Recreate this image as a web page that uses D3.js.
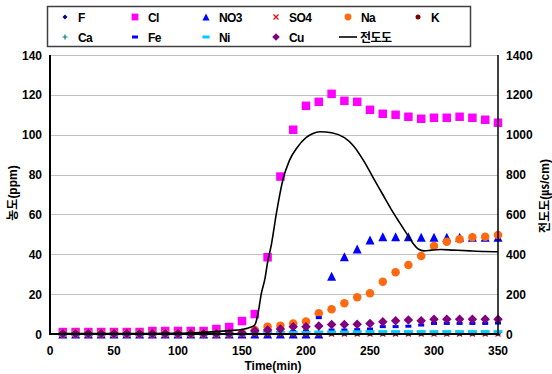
<!DOCTYPE html>
<html lang="ko">
<head>
<meta charset="UTF-8">
<title>농도 / 전도도</title>
<script src="https://d3js.org/d3.v7.min.js"></script>
<style>
  body { margin: 0; background: #fff; }
  svg { display: block; font-family: 'Liberation Sans', Arial, sans-serif; }
  .tick-label { font-size: 12px; font-weight: bold; fill: #000; }
  .legend-text { font-size: 12px; font-weight: bold; fill: #000; letter-spacing: -0.6px; }
  .axis-title { font-size: 12px; font-weight: bold; fill: #000; font-family: 'Liberation Sans', 'Noto Sans CJK KR', sans-serif; }
  .grid { stroke: #c0c0c0; stroke-width: 1; }
</style>
</head>
<body>
<svg width="552" height="374"></svg>
<script>
// time points (min)
const times = d3.range(10, 351, 10);

// ion concentrations (ppm), one value per time point
const F   = [0,0,0,0,0,0,0,0,0,0,0,0,0,0,0,0.1,0.1,0.1,0.1,0.1,0.1,0.1,0.1,0.1,0.1,0.1,0.1,0.1,0.1,0.1,0.1,0.1,0.1,0.1,0.1];
const Cl  = [1,1,1,1,1,1,1,1.5,1.5,1.5,1.5,1.5,2.5,3.5,6.5,10,38.5,79,102.5,114.5,116.5,120.5,117,116.5,112.5,110.5,110,109,108,108.5,108.5,109,108.5,107.5,106];
const NO3 = [0,0,0,0,0,0,0,0,0,0,0,0,0,0,0,0,0,0,0,0,0,29,38.8,42.6,47.2,48.8,48.8,48.8,48.5,48.5,48.5,48.5,48.5,48.5,48.5];
const SO4 = [0,0,0,0,0,0,0,0,0,0,0,0,0,0,0,0,0,0,0,0,0,0,0,0,0,0,0,0,0,0,0,0,0,0,0];
const Na  = [0.3,0.3,0.3,0.3,0.3,0.3,0.3,0.3,0.3,0.3,0.3,0.3,0.3,0.3,0.5,2,3.7,4.2,5.3,6.3,10.4,12.4,15.4,18.4,20.4,26.2,31,34.6,39.1,44.2,46.3,47.5,48.5,48.8,49.7];
const K   = [0,0,0,0,0,0,0,0,0,0,0,0,0,0,0,0.2,0.2,0.2,0.2,0.2,0.2,0.2,0.2,0.2,0.2,0.2,0.2,0.2,0.2,0.2,0.2,0.2,0.2,0.2,0.2];
const Ca  = [0,0,0,0,0,0,0,0,0,0,0,0,0,0,0,0.3,0.3,0.3,0.3,0.3,0.3,0.3,0.3,0.3,0.3,0.3,0.3,0.3,0.3,0.3,0.3,0.3,0.3,0.3,0.3];
const Fe  = [0,0,0,0,0,0,0,0,0,0,0,0,0,0,0,0.3,0.8,1,1.2,1.5,8.2,2,2,2.2,2.5,3.7,3.7,3.9,4.5,5.3,5.3,5.3,5.3,5.3,5.5];
const Ni  = [0,0,0,0,0,0,0,0,0,0,0,0,0,0,0,0.5,0.8,0.8,0.8,0.8,1,1,1,1.1,1.2,1.2,1.2,1.2,1.2,1.2,1.2,1.2,1.2,1.2,1.2];
const Cu  = [0.3,0.3,0.3,0.3,0.3,0.3,0.3,0.3,0.3,0.3,0.3,0.3,0.3,0.3,0.5,1.6,2,2.5,3.6,3.7,4,4.8,4.8,4.9,5.3,6.2,6.7,7,6.7,7.4,7.4,7.4,7.4,7.4,7.4];

// conductivity (uS/cm)
const condT = [10,30,50,70,90,100,110,120,130,140,150,155,160,163,165,168,170,173,177,182,187,193,200,205,211,220,230,237,245,252,260,266,273,279,284,288,292,298,305,315,328,340,350];
const condV = [2,2,2,2,3,3,5,8,12,17,23,30,45,120,200,280,360,450,610,775,870,935,985,1005,1015,1010,985,945,870,790,700,632,560,500,452,425,417,421,424,421,417,414,413];

const xTicks = [0,50,100,150,200,250,300,350];
const yTicks = [0,20,40,60,80,100,120,140];
const y2Ticks = [0,200,400,600,800,1000,1200,1400];

const svg = d3.select("svg");
const x = d3.scaleLinear().domain([0, 350]).range([50, 498]);
const y = d3.scaleLinear().domain([0, 140]).range([334, 55]);
const y2 = d3.scaleLinear().domain([0, 1400]).range([334, 55]);

// marker shapes, centred on 0,0
const shapes = {
  square: s => `M${-s/2},${-s/2}h${s}v${s}h${-s}Z`,
  diamond: s => `M0,${-s/2}L${s/2},0L0,${s/2}L${-s/2},0Z`,
  triangle: s => `M0,${-s/2}L${s/2},${s/2}L${-s/2},${s/2}Z`,
  circle: s => d3.symbol(d3.symbolCircle, Math.PI * s * s / 4)(),
  cross: s => `M${-s/2},${-s/2}L${s/2},${s/2}M${s/2},${-s/2}L${-s/2},${s/2}`,
  plus: s => `M${-s/2},0H${s/2}M0,${-s/2}V${s/2}`,
  dash: s => `M${-s/2},-1.5h${s}v3h${-s}Z`
};

const series = [
  { name: "F",   values: F,   shape: "diamond",  size: 5, color: "#000080" },
  { name: "Cl",  values: Cl,  shape: "square",   size: 8.5, color: "#ff00ff" },
  { name: "NO3", values: NO3, shape: "triangle", size: 9, color: "#0000ff" },
  { name: "SO4", values: SO4, shape: "cross",    size: 5, color: "#ff0000", stroke: true },
  { name: "Na",  values: Na,  shape: "circle",   size: 8.5, color: "#ff6a10" },
  { name: "K",   values: K,   shape: "circle",   size: 5, color: "#800000" },
  { name: "Ca",  values: Ca,  shape: "plus",     size: 5, color: "#008080", stroke: true },
  { name: "Fe",  values: Fe,  shape: "dash",     size: 6, color: "#0000ff" },
  { name: "Ni",  values: Ni,  shape: "dash",     size: 9, color: "#00ccff" },
  { name: "Cu",  values: Cu,  shape: "diamond",  size: 9.5, color: "#800080" }
];

// gridlines
svg.append("g").selectAll("line").data(yTicks.slice(1)).join("line")
  .attr("class", "grid")
  .attr("x1", x(0)).attr("x2", x(350))
  .attr("y1", d => Math.round(y(d)) + 0.5).attr("y2", d => Math.round(y(d)) + 0.5);

// markers
series.forEach(s => {
  svg.append("g").selectAll("path").data(s.values).join("path")
    .attr("transform", (d, i) => `translate(${x(times[i])},${y(d)})`)
    .attr("d", shapes[s.shape](s.size))
    .attr("fill", s.stroke ? "none" : s.color)
    .attr("stroke", s.stroke ? s.color : "none")
    .attr("stroke-width", 1.2);
});

// conductivity line
const condData = condT.map((t, i) => [t, condV[i]]);
svg.append("path")
  .datum(condData)
  .attr("fill", "none")
  .attr("stroke", "#000")
  .attr("stroke-width", 1.6)
  .attr("d", d3.line().x(d => x(d[0])).y(d => y2(d[1])).curve(d3.curveMonotoneX));

// axes lines
svg.append("line").attr("x1", 50).attr("x2", 50).attr("y1", 55).attr("y2", 335)
  .attr("stroke", "#000").attr("stroke-width", 2);
svg.append("line").attr("x1", 498).attr("x2", 498).attr("y1", 55).attr("y2", 335)
  .attr("stroke", "#000").attr("stroke-width", 1.5);
svg.append("line").attr("x1", 49).attr("x2", 499).attr("y1", 334).attr("y2", 334)
  .attr("stroke", "#000").attr("stroke-width", 2);

// tick labels
svg.append("g").selectAll("text").data(yTicks).join("text")
  .attr("class", "tick-label")
  .attr("x", 42).attr("y", d => y(d) + 4.5)
  .attr("text-anchor", "end")
  .text(d => d);
svg.append("g").selectAll("text").data(y2Ticks).join("text")
  .attr("class", "tick-label")
  .attr("x", 506).attr("y", d => y2(d) + 4.5)
  .text(d => d);
svg.append("g").selectAll("text").data(xTicks).join("text")
  .attr("class", "tick-label")
  .attr("x", d => x(d)).attr("y", 355)
  .attr("text-anchor", "middle")
  .text(d => d);

// axis titles
svg.append("text").attr("class", "axis-title")
  .attr("transform", "translate(17,193) rotate(-90)")
  .attr("text-anchor", "middle")
  .text("농도(ppm)");
svg.append("text").attr("class", "axis-title")
  .attr("transform", "translate(549,196) rotate(-90)")
  .attr("text-anchor", "middle")
  .text("전도도(㎲/cm)");
svg.append("text").attr("class", "axis-title")
  .attr("x", 273).attr("y", 370)
  .attr("text-anchor", "middle")
  .text("Time(min)");

// legend
const legend = svg.append("g");
legend.append("rect")
  .attr("x", 47.5).attr("y", 6.5).attr("width", 423).attr("height", 40)
  .attr("fill", "#fff").attr("stroke", "#404040").attr("stroke-width", 1.5);

const colX = [65, 135, 206, 276, 348, 418];
const rowY = [17, 37];
series.forEach((s, i) => {
  const cx = colX[i % 6], cy = rowY[Math.floor(i / 6)];
  const ls = s.size > 7 ? s.size * 0.8 : s.size;
  legend.append("path")
    .attr("transform", `translate(${cx},${cy})`)
    .attr("d", shapes[s.shape](ls))
    .attr("fill", s.stroke ? "none" : s.color)
    .attr("stroke", s.stroke ? s.color : "none")
    .attr("stroke-width", 1.2);
  legend.append("text").attr("class", "legend-text")
    .attr("x", cx + 13).attr("y", cy + 4.5)
    .text(s.name);
});
legend.append("line")
  .attr("x1", 339).attr("x2", 357).attr("y1", 37).attr("y2", 37)
  .attr("stroke", "#000").attr("stroke-width", 1.6);
legend.append("text").attr("class", "legend-text")
  .style("font-family", "'Noto Sans CJK KR', sans-serif")
  .attr("x", 360).attr("y", 41.5)
  .text("전도도");
</script>
</body>
</html>
